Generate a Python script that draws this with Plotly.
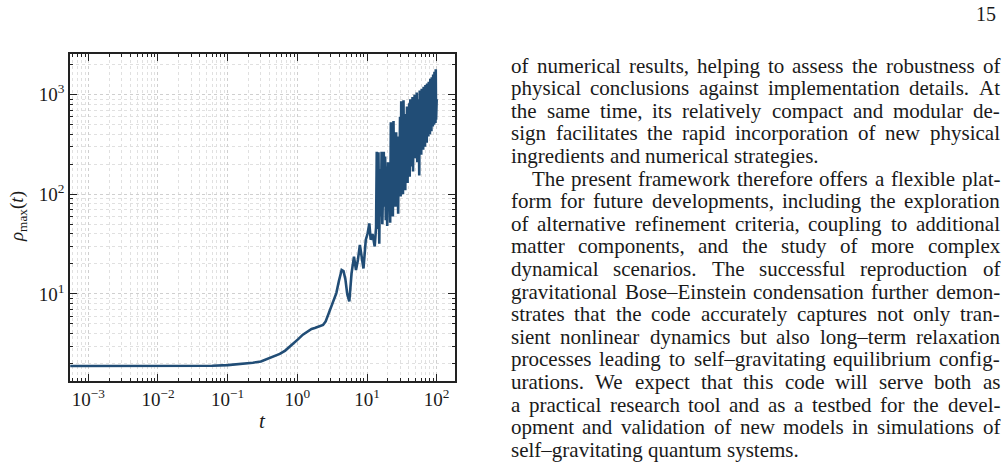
import plotly.graph_objects as go

# ---------------- data ----------------
t_smooth = [0.00055, 0.001, 0.003, 0.01, 0.03, 0.06, 0.1, 0.15, 0.23, 0.3, 0.36, 0.45,
            0.56, 0.67, 0.78, 0.9, 1.02, 1.2, 1.43, 1.6, 1.78, 2.05, 2.34, 2.55, 2.76,
            3.0, 3.3, 3.63, 3.95, 4.33, 4.6, 4.9, 5.2, 5.57, 6.0, 6.5, 6.95, 7.4, 7.9,
            8.3, 8.9, 9.6, 10.2, 10.8, 11.3, 12.0, 12.9, 13.5]
rho_smooth = [1.89, 1.89, 1.89, 1.89, 1.89, 1.9, 1.93, 1.97, 2.04, 2.1, 2.21, 2.35,
              2.5, 2.7, 2.95, 3.2, 3.5, 3.9, 4.28, 4.45, 4.55, 4.7, 4.88, 5.3, 6.15,
              7.3, 8.6, 10.2, 13.5, 17.4, 17.0, 14.0, 10.0, 8.4, 16.1, 23.7, 17.4, 21.9, 31,
              25, 18, 34.8, 40.4, 51, 35, 40, 30, 47]

t_noisy = [13.8, 14.2, 14.6, 15.0, 15.4, 15.8, 16.2, 16.6, 17.0, 17.4, 17.8, 18.2, 18.6, 19.0,
           19.5, 20.0, 20.5, 21.0, 21.5, 22.0, 22.5, 23.0, 23.5, 24.0, 24.5, 25.0,
           25.6, 26.2, 26.8, 27.4, 28.0, 28.6, 29.2, 29.8, 30.4, 31.0, 31.6, 32.2, 32.8, 33.4, 34.0,
           34.7, 35.4, 36.1, 36.8, 37.5, 38.2, 38.9, 39.6, 40.3, 41.0,
           41.8, 42.6, 43.4, 44.2, 45.0, 45.8, 46.6, 47.4, 48.2, 49.0,
           49.9, 50.8, 51.7, 52.6, 53.5, 54.4, 55.3, 56.2, 57.1, 58.0,
           59, 60, 61, 62, 63, 64, 65, 66, 67, 68, 69, 70, 71, 72, 73, 74, 75, 76, 77, 78, 79,
           80, 81, 82, 83, 84, 85, 86, 87, 88, 89, 90, 91, 92, 93, 94, 95, 96, 97, 98, 99, 100]
rho_noisy = [268, 45, 265, 32, 180, 60, 268, 50, 150, 268, 75, 240, 55, 190,
             48, 210, 70, 160, 52, 530, 90, 250, 60, 545, 120, 300,
             75, 420, 110, 260, 64, 380, 150, 600, 95, 860, 140, 520, 100, 880, 180,
             640, 110, 520, 200, 760, 130, 420, 240, 820, 150,
             900, 190, 560, 260, 950, 170, 700, 300, 1000, 230,
             780, 280, 1050, 210, 900, 340, 620, 155, 1100, 300,
             900, 250, 1150, 320, 800, 280, 1200, 350, 950, 300, 1250, 400, 1000, 330, 1300,
             420, 1100, 380, 1350, 450, 1200, 400, 1450, 480, 1250, 430, 1500, 520, 1350, 480,
             1600, 550, 1450, 500, 1700, 580, 1550, 520, 1800, 560, 1750, 900]

x_tick_vals = [1e-3, 1e-2, 1e-1, 1, 10, 100]
x_tick_text = ["10<sup>−3</sup>", "10<sup>−2</sup>", "10<sup>−1</sup>",
               "10<sup>0</sup>", "10<sup>1</sup>", "10<sup>2</sup>"]
y_tick_vals = [10, 100, 1000]
y_tick_text = ["10<sup>1</sup>", "10<sup>2</sup>", "10<sup>3</sup>"]

page_lines = [
    ("of numerical results, helping to assess the robustness of", False, True),
    ("physical conclusions against implementation details. At", False, True),
    ("the same time, its relatively compact and modular de-", False, True),
    ("sign facilitates the rapid incorporation of new physical", False, True),
    ("ingredients and numerical strategies.", False, False),
    ("The present framework therefore offers a flexible plat-", True, True),
    ("form for future developments, including the exploration", False, True),
    ("of alternative refinement criteria, coupling to additional", False, True),
    ("matter components, and the study of more complex", False, True),
    ("dynamical scenarios. The successful reproduction of", False, True),
    ("gravitational Bose–Einstein condensation further demon-", False, True),
    ("strates that the code accurately captures not only tran-", False, True),
    ("sient nonlinear dynamics but also long–term relaxation", False, True),
    ("processes leading to self–gravitating equilibrium config-", False, True),
    ("urations. We expect that this code will serve both as", False, True),
    ("a practical research tool and as a testbed for the devel-", False, True),
    ("opment and validation of new models in simulations of", False, True),
    ("self–gravitating quantum systems.", False, False),
]
page_number = "15"

# ---------------- figure ----------------
t_all = t_smooth + t_noisy
rho_all = rho_smooth + rho_noisy

FONT = "Liberation Serif, Times New Roman, serif"
INK = "#1a1a1a"
FRAME = "#222222"

W, H = 1008, 462
L, R, T, B = 70, 455, 54, 381  # plot area in pixels


def px(x):
    return (x - L) / (W - L)


def py(y):
    return (B - y) / (B - T)


fig = go.Figure()
fig.add_trace(go.Scatter(x=t_all, y=rho_all, mode="lines",
                         line=dict(color="#214d76", width=2.6),
                         hoverinfo="skip", showlegend=False))

x_minor = [k * 10.0 ** d for d in range(-4, 3) for k in range(2, 10)]
y_minor = [k * 10.0 ** d for d in range(0, 4) for k in range(2, 10)]

axis_common = dict(
    type="log", showline=True, linecolor=FRAME, linewidth=1.5, mirror="allticks",
    ticks="inside", ticklen=7, tickwidth=1, tickcolor=FRAME,
    showgrid=True, gridcolor="#cfcfcf", griddash="dot", gridwidth=0.8,
    zeroline=False, tickfont=dict(family=FONT, size=19, color=INK),
    tickmode="array",
)

fig.update_xaxes(**axis_common, range=[-3.263, 2.263], domain=[0, (R - L) / (W - L)],
                 tickvals=x_tick_vals, ticktext=x_tick_text,
                 minor=dict(tickmode="array", tickvals=x_minor, ticks="inside", ticklen=3.5,
                            tickcolor=FRAME, showgrid=True, gridcolor="#e0e0e0",
                            griddash="dot", gridwidth=0.7))
fig.update_yaxes(**axis_common, range=[0.126, 3.409],
                 tickvals=y_tick_vals, ticktext=y_tick_text,
                 minor=dict(tickmode="array", tickvals=y_minor, ticks="inside", ticklen=3.5,
                            tickcolor=FRAME, showgrid=True, gridcolor="#e0e0e0",
                            griddash="dot", gridwidth=0.7))

annotations = []
# axis titles
annotations.append(dict(x=px(262), y=py(421), xref="paper", yref="paper", text="<i>t</i>",
                        xanchor="center", yanchor="middle",
                        showarrow=False, font=dict(family=FONT, size=21, color=INK)))
annotations.append(dict(x=px(18), y=py(217), xref="paper", yref="paper",
                        text="<i>ρ</i><sub>max</sub>(<i>t</i>)", textangle=-90,
                        xanchor="center", yanchor="middle",
                        showarrow=False, font=dict(family=FONT, size=19, color=INK)))
# page number
annotations.append(dict(x=px(998), y=py(14), xref="paper", yref="paper", text=page_number,
                        xanchor="right", yanchor="middle", showarrow=False,
                        font=dict(family=FONT, size=20, color=INK)))

# justified body text (Times / Liberation Serif advance widths, 1/1000 em)
CW = {'a': 444, 'b': 500, 'c': 444, 'd': 500, 'e': 444, 'f': 333, 'g': 500, 'h': 500,
      'i': 278, 'j': 278, 'k': 500, 'l': 278, 'm': 778, 'n': 500, 'o': 500, 'p': 500,
      'q': 500, 'r': 333, 's': 389, 't': 278, 'u': 500, 'v': 500, 'w': 722, 'x': 500,
      'y': 500, 'z': 444, 'A': 722, 'B': 667, 'E': 611, 'T': 611, 'W': 944,
      ',': 250, '.': 250, '-': 333, '–': 500}
FS = 21
X0, X1, INDENT = 511, 1000, 21


def word_w(s):
    return sum(CW.get(c, 500) for c in s) * FS / 1000.0


for i, (txt, indent, just) in enumerate(page_lines):
    yc = 67.5 + 22.6 * i
    words = txt.split()
    widths = [word_w(w) for w in words]
    start = X0 + (INDENT if indent else 0)
    if just and len(words) > 1:
        gap = (X1 - start - sum(widths)) / (len(words) - 1)
    else:
        gap = 0.25 * FS
    x = start
    for w, wd in zip(words, widths):
        annotations.append(dict(x=px(x), y=py(yc - 2), xref="paper", yref="paper", text=w,
                                xanchor="left", yanchor="middle", showarrow=False,
                                borderpad=0, borderwidth=0,
                                font=dict(family=FONT, size=FS, color=INK)))
        x += wd + gap

fig.update_layout(width=W, height=H, margin=dict(l=L, r=0, t=T, b=H - B, pad=0),
                  paper_bgcolor="white", plot_bgcolor="white", showlegend=False,
                  font=dict(family=FONT, color=INK), annotations=annotations)

fig.write_html("out.html", config={"displayModeBar": False})
